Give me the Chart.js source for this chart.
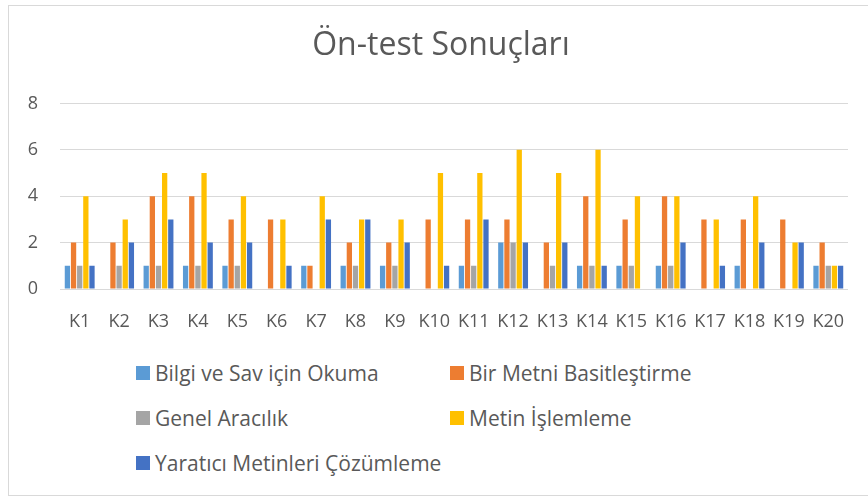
<!DOCTYPE html>
<html>
<head>
<meta charset="utf-8">
<script src="https://cdn.jsdelivr.net/npm/chart.js@4/dist/chart.umd.min.js"></script>
<style>
  html, body { margin: 0; padding: 0; background: #fff; }
  #wrap { position: relative; width: 868px; height: 497px; overflow: hidden; font-family: "Open Sans", sans-serif; }
  #frame { position: absolute; left: 8px; top: 5px; width: 880px; height: 491px; border: 1px solid #d9d9d9; box-sizing: border-box; }
  #chartBox { position: absolute; left: 0; top: 0; width: 868px; height: 345px; }
  #legend { position: absolute; left: 136px; top: 358px; display: grid; grid-template-columns: 314px 300px; row-gap: 15px; }
  .item { display: flex; align-items: center; height: 30px; font-size: 21px; color: #595959; white-space: nowrap; }
  .swatch { width: 14px; height: 14px; margin-right: 5px; flex: none; }
</style>
</head>
<body>
<div id="wrap">
  <div id="frame"></div>
  <div id="chartBox"><canvas id="chart"></canvas></div>
  <div id="legend"></div>
</div>
<script>
const categories = ["K1","K2","K3","K4","K5","K6","K7","K8","K9","K10","K11","K12","K13","K14","K15","K16","K17","K18","K19","K20"];
const seriesNames = ["Bilgi ve Sav için Okuma", "Bir Metni Basitleştirme", "Genel Aracılık", "Metin İşlemleme", "Yaratıcı Metinleri Çözümleme"];
const bilgiSav   = [1,0,1,1,1,0,1,1,1,0,1,2,0,1,1,1,0,1,0,1];
const basitlestir = [2,2,4,4,3,3,1,2,2,3,3,3,2,4,3,4,3,3,3,2];
const genelAraci = [1,1,1,1,1,0,0,1,1,0,1,2,1,1,1,1,0,0,0,1];
const metinIsle  = [4,3,5,5,4,3,4,3,3,5,5,6,5,6,4,4,3,4,2,1];
const yaratici   = [1,2,3,2,2,1,3,3,2,1,3,2,2,1,0,2,1,2,2,1];
const colors = ["#5B9BD5", "#ED7D31", "#A5A5A5", "#FFC000", "#4472C4"];
const yTicks = [0, 2, 4, 6, 8];

const values = [bilgiSav, basitlestir, genelAraci, metinIsle, yaratici];
const textColor = "#595959";

const datasets = seriesNames.map((name, i) => ({
    label: name,
    data: values[i],
    backgroundColor: colors[i],
    borderWidth: 0,
    categoryPercentage: 0.78,
    barPercentage: 0.86
}));

// the title is centred on the frame, not on the canvas, so nudge its box a bit right
const titleShift = {
    id: "titleShift",
    afterLayout(chart) {
        if (chart.titleBlock) { chart.titleBlock.left = 34; }
    }
};

new Chart(document.getElementById("chart").getContext("2d"), {
    type: "bar",
    data: { labels: categories, datasets: datasets },
    plugins: [titleShift],
    options: {
        responsive: true,
        maintainAspectRatio: false,
        animation: false,
        layout: { padding: { left: 0, right: 20, top: 0, bottom: 0 } },
        plugins: {
            legend: { display: false },
            tooltip: { enabled: false },
            title: {
                display: true,
                text: "Ön-test Sonuçları",
                color: textColor,
                font: { family: "Open Sans", size: 32, weight: "normal", lineHeight: 1.2 },
                padding: { top: 27, bottom: 38 }
            }
        },
        scales: {
            x: {
                grid: { display: false },
                border: { display: false },
                ticks: { color: textColor, font: { family: "Open Sans", size: 18 }, padding: 14, maxRotation: 0, autoSkip: false },
                afterFit: (scale) => { scale.height = 345 - 289; }
            },
            y: {
                min: 0,
                max: 8,
                afterBuildTicks: (scale) => { scale.ticks = yTicks.map(v => ({ value: v })); },
                grid: { color: "#D9D9D9", lineWidth: 1, drawTicks: false },
                border: { display: false },
                ticks: { color: textColor, font: { family: "Open Sans", size: 18 }, padding: 22 },
                afterFit: (scale) => { scale.width = 60; }
            }
        }
    }
});

const legend = document.getElementById("legend");
datasets.forEach(ds => {
    const item = document.createElement("div");
    item.className = "item";
    const sw = document.createElement("span");
    sw.className = "swatch";
    sw.style.background = ds.backgroundColor;
    const label = document.createElement("span");
    label.textContent = ds.label;
    item.appendChild(sw);
    item.appendChild(label);
    legend.appendChild(item);
});
</script>
</body>
</html>
